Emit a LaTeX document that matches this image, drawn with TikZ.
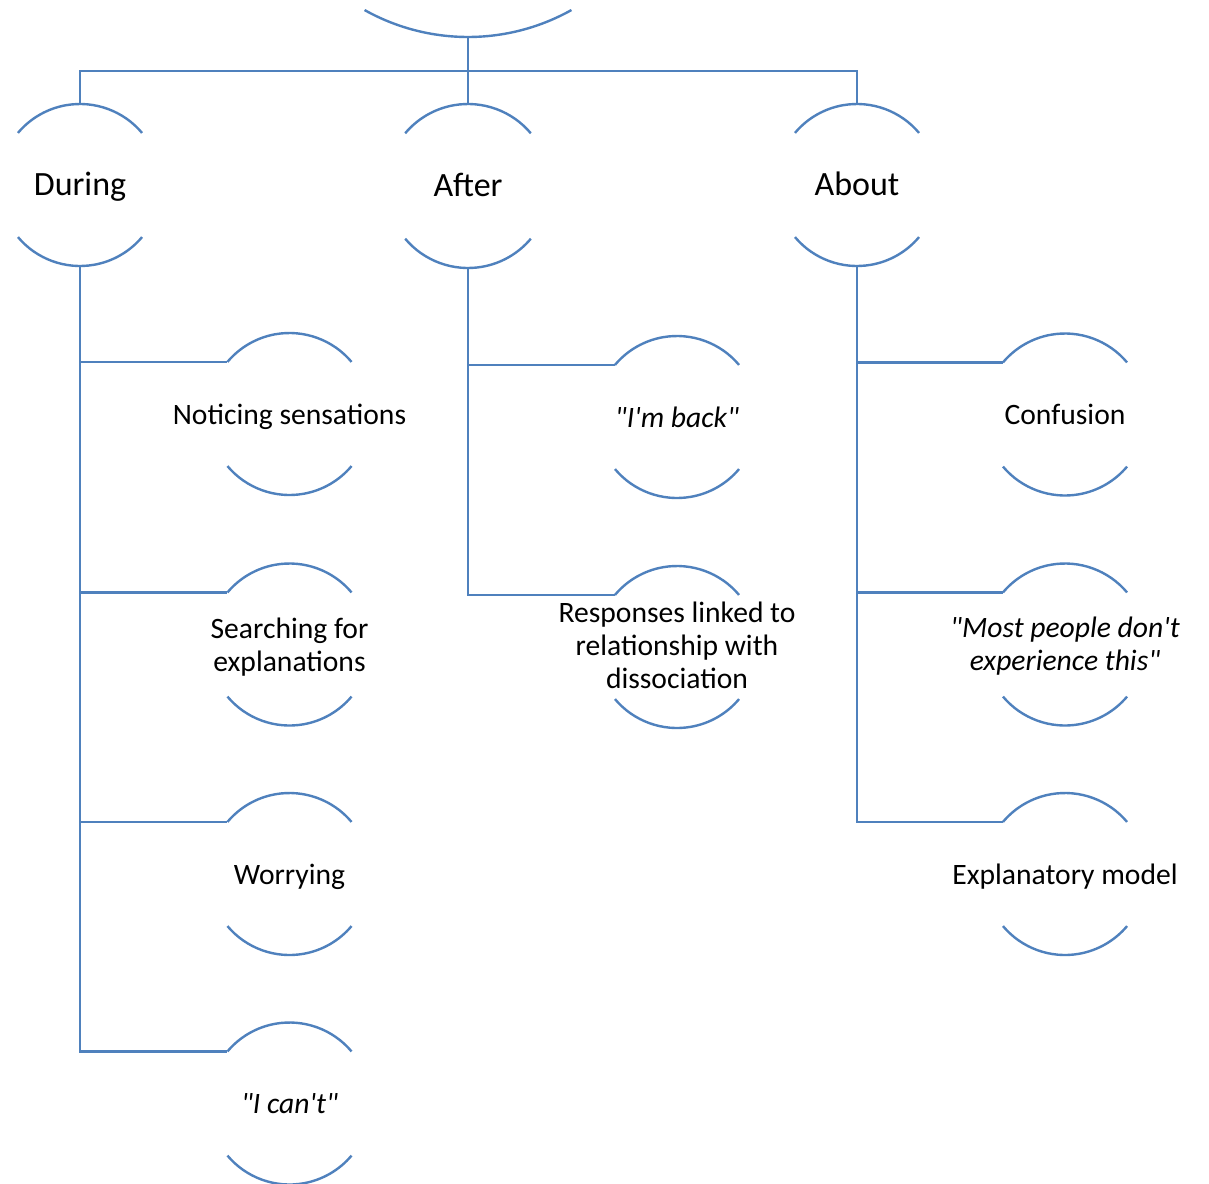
\documentclass[tikz,border=0pt]{standalone}
\usepackage{fontspec}
\setmainfont{Carlito}[Ligatures=TeXOff]
\usetikzlibrary{calc}
\definecolor{arcblue}{RGB}{79,129,189}
\tikzset{
  arcline/.style={draw=arcblue, line width=2.4pt},
  linkline/.style={draw=arcblue, line width=2.4pt},
  toplabel/.style={inner sep=0pt, align=center, text=black,
    font=\fontsize{34}{40}\selectfont, text height=20pt, text depth=0pt},
  sublabel/.style={inner sep=0pt, align=center, text=black,
    font=\fontsize{29.6}{33}\selectfont, text height=20pt, text depth=0pt},
  multilabel/.style={inner sep=0pt, align=center, text=black,
    font=\fontsize{29.6}{33}\selectfont},
}
% a round node drawn as an upper and a lower arc, with its label in the middle
% #1 name, #2 x, #3 y, #4 radius, #5 label style, #6 label
\newcommand{\arcnode}[6]{%
  \coordinate (#1) at (#2,#3);
  \coordinate (#1-top) at ($(#1)+(0,#4)$);
  \coordinate (#1-bot) at ($(#1)+(0,-#4)$);
  \coordinate (#1-in) at ($(#1)+(140:#4pt)$);
  \draw[arcline] ($(#1)+(40:#4pt)$) arc[start angle=40, end angle=140, radius=#4pt];
  \draw[arcline] ($(#1)+(220:#4pt)$) arc[start angle=220, end angle=320, radius=#4pt];
  \node[#5] (#1-label) at (#1) {#6};
}
\begin{document}
\begin{tikzpicture}[x=1pt, y=1pt]
  \useasboundingbox (0,0) rectangle (1209,-1183);
  \fill[white] (0,0) rectangle (1209,-1183);

  % root, only its lower arc shows
  \coordinate (root) at (468,175);
  \coordinate (root-bot) at (468,-37);
  \draw[arcline] ($(root)+(240.8:212pt)$) arc[start angle=240.8, end angle=299.2, radius=212pt];
  \coordinate (bus) at (468,-71);

  % first level
  \arcnode{during}{80}{-185}{81}{toplabel}{During}
  \arcnode{after}{468}{-186}{82}{toplabel}{After}
  \arcnode{about}{857}{-185}{81}{toplabel}{About}

  % second level under During
  \arcnode{noticing}{289.5}{-414}{81}{sublabel}{Noticing sensations}
  \arcnode{searching}{289.5}{-644.5}{81}{multilabel, yshift=-2.5pt}{Searching for\\explanations}
  \arcnode{worrying}{289.5}{-874}{81}{sublabel}{Worrying}
  \arcnode{cant}{289.5}{-1103.5}{81}{sublabel}{\itshape "I can't"}

  % second level under After
  \arcnode{back}{677}{-417}{81}{sublabel}{\itshape "I'm back"}
  \arcnode{responses}{677}{-647}{81}{multilabel, yshift=1.5pt}{Responses linked to\\relationship with\\dissociation}

  % second level under About
  \arcnode{confusion}{1065}{-414.5}{81}{sublabel}{Confusion}
  \arcnode{most}{1065}{-644.5}{81}{multilabel, yshift=-2pt}{\itshape "Most people don't\\\itshape experience this"}
  \arcnode{model}{1065}{-874}{81}{sublabel}{Explanatory model}

  % connectors
  \draw[linkline] (root-bot) -- (after-top);
  \draw[linkline] (during-top) |- (bus) -| (about-top);

  \draw[linkline] (during-bot) |- (noticing-in);
  \draw[linkline] (during-bot) |- (searching-in);
  \draw[linkline] (during-bot) |- (worrying-in);
  \draw[linkline] (during-bot) |- (cant-in);

  \draw[linkline] (after-bot) |- (back-in);
  \draw[linkline] (after-bot) |- (responses-in);

  \draw[linkline] (about-bot) |- (confusion-in);
  \draw[linkline] (about-bot) |- (most-in);
  \draw[linkline] (about-bot) |- (model-in);
\end{tikzpicture}
\end{document}
